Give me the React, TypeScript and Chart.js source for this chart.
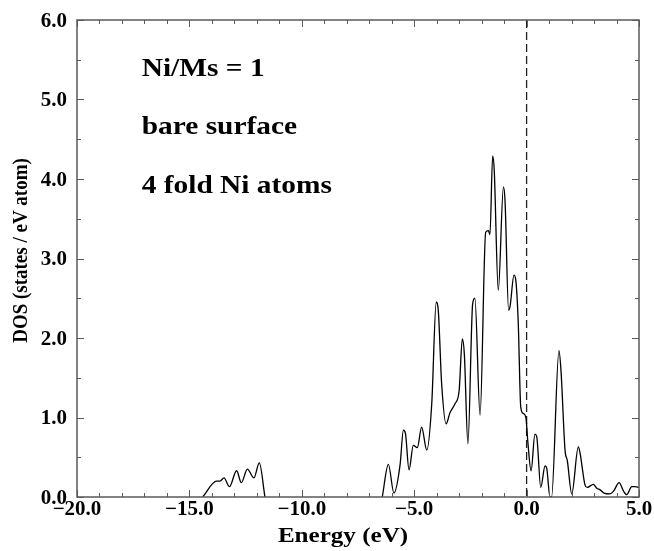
import { useEffect, useRef } from "react";
import { Chart, registerables } from "chart.js";

Chart.register(...registerables);

// ---- data ----
const energy = [
  -14.41, -13.79, -13.64, -13.46, -13.22, -12.9, -12.69, -12.42, -12.13, -11.89, -11.64,
  -9.0,
  -6.42, -6.15, -5.9, -5.63, -5.48, -5.39, -5.23, -5.04, -4.86, -4.67, -4.44, -4.22, -4.02, -3.93,
  -3.78, -3.58, -3.41, -3.19, -3.0, -2.86, -2.77, -2.61, -2.4, -2.3, -2.07, -1.82, -1.7, -1.63,
  -1.51, -1.44, -1.26, -1.03, -0.96, -0.8, -0.74, -0.56, -0.47, -0.37, -0.26, -0.15, -0.03, 0.05,
  0.2, 0.37, 0.45, 0.63, 0.82, 0.89, 1.04, 1.11, 1.44, 1.53, 1.71, 1.81, 2.01, 2.3, 2.38, 2.6,
  2.7, 2.97, 3.12, 3.27, 3.44, 3.71, 3.86, 4.12, 4.3, 4.45, 4.68, 4.82, 5.0,
];
const dos: (number | null)[] = [
  0, 0.2, 0.2, 0.24, 0.13, 0.33, 0.18, 0.35, 0.24, 0.43, 0,
  null,
  0, 0.41, 0.05, 0.4, 0.84, 0.8, 0.34, 0.65, 0.62, 0.88, 0.59, 1.17, 2.45, 2.35,
  1.43, 0.92, 1.06, 1.17, 1.34, 1.99, 1.8, 0.67, 2.43, 2.5, 1.03, 3.33, 3.35, 3.3,
  4.29, 4.11, 2.6, 3.9, 3.73, 2.35, 2.39, 2.79, 2.7, 2.18, 1.13, 1.05, 1.0, 0.71,
  0.33, 0.79, 0.76, 0.12, 0.39, 0.37, 0.0, 0.0, 1.84, 1.59, 0.59, 0.46, 0.04, 0.63, 0.55, 0.15,
  0.12, 0.16, 0.11, 0.09, 0.05, 0.04, 0.07, 0.18, 0.08, 0.03, 0.13, 0.13, 0.12,
];

const xMin = -20;
const xMax = 5;
const yMin = 0;
const yMax = 6;
const xTickValues = [-20, -15, -10, -5, 0, 5];
const xTickLabels = ["\u221220.0", "\u221215.0", "\u221210.0", "\u22125.0", "0.0", "5.0"];
const yTickValues = [0, 1, 2, 3, 4, 5, 6];
const yTickLabels = ["0.0", "1.0", "2.0", "3.0", "4.0", "5.0", "6.0"];
const xMinorStep = 1;
const yMinorStep = 0.5;
const fermiEnergy = 0;

const noteLines = ["Ni/Ms = 1", "bare surface", "4 fold Ni atoms"];
const noteX = -17.12;
const noteY = [5.3, 4.57, 3.82];

const xTitle = "Energy (eV)";
const yTitle = "DOS (states / eV atom)";

const FONT = '"Liberation Serif", "Times New Roman", serif';
const FRAME = "#5a5a5a";

function drawText(
  ctx: CanvasRenderingContext2D,
  text: string,
  x: number,
  y: number,
  size: number,
  sx: number,
  align: CanvasTextAlign,
  baseline: CanvasTextBaseline,
  rotate = false
) {
  ctx.save();
  ctx.translate(x, y);
  ctx.scale(sx, 1);
  if (rotate) ctx.rotate(-Math.PI / 2);
  ctx.font = `bold ${size}px ${FONT}`;
  ctx.textAlign = align;
  ctx.textBaseline = baseline;
  ctx.fillStyle = "#000";
  ctx.fillText(text, 0, 0);
  ctx.restore();
}

const framePlugin = {
  id: "dosFrame",
  beforeDatasetsDraw(chart: any) {
    const { ctx, chartArea: a, scales } = chart;
    const x0 = scales.x.getPixelForValue(fermiEnergy);
    ctx.save();
    ctx.strokeStyle = "#222";
    ctx.lineWidth = 1.3;
    ctx.setLineDash([8, 4]);
    ctx.beginPath();
    ctx.moveTo(x0, a.top);
    ctx.lineTo(x0, a.bottom);
    ctx.stroke();
    ctx.restore();
  },
  afterDatasetsDraw(chart: any) {
    const { ctx, chartArea: a, scales } = chart;
    const xs = scales.x;
    const ys = scales.y;
    ctx.save();
    ctx.strokeStyle = FRAME;
    ctx.lineWidth = 1.5;
    ctx.strokeRect(a.left, a.top, a.right - a.left, a.bottom - a.top);

    ctx.lineWidth = 1;
    ctx.beginPath();
    // x ticks (inward, bottom and top)
    for (let v = xMin; v <= xMax + 1e-9; v += xMinorStep) {
      const major = xTickValues.some((t) => Math.abs(t - v) < 1e-9);
      const len = major ? 7 : 4;
      const px = Math.round(xs.getPixelForValue(v)) + 0.5;
      ctx.moveTo(px, a.bottom);
      ctx.lineTo(px, a.bottom - len);
      ctx.moveTo(px, a.top);
      ctx.lineTo(px, a.top + len);
    }
    // y ticks (inward, left and right)
    for (let v = yMin; v <= yMax + 1e-9; v += yMinorStep) {
      const major = yTickValues.some((t) => Math.abs(t - v) < 1e-9);
      const len = major ? 7 : 4;
      const py = Math.round(ys.getPixelForValue(v)) + 0.5;
      ctx.moveTo(a.left, py);
      ctx.lineTo(a.left + len, py);
      ctx.moveTo(a.right, py);
      ctx.lineTo(a.right - len, py);
    }
    ctx.stroke();
    ctx.restore();

    // tick labels
    xTickValues.forEach((v, i) => {
      drawText(ctx, xTickLabels[i], xs.getPixelForValue(v), a.bottom + 18, 20, 1.05, "center", "alphabetic");
    });
    yTickValues.forEach((v, i) => {
      drawText(ctx, yTickLabels[i], a.left - 10, ys.getPixelForValue(v) + 6.5, 20, 1.05, "right", "alphabetic");
    });

    // axis titles
    drawText(ctx, xTitle, (a.left + a.right) / 2 - 15, a.bottom + 45, 22, 1.14, "center", "alphabetic");
    drawText(ctx, yTitle, 27, (a.top + a.bottom) / 2 - 8, 19, 1.05, "center", "alphabetic", true);

    // annotation lines
    noteLines.forEach((t, i) => {
      drawText(ctx, t, xs.getPixelForValue(noteX), ys.getPixelForValue(noteY[i]), 26, 1.13, "left", "alphabetic");
    });
  },
};

export default function App() {
  const ref = useRef<HTMLCanvasElement | null>(null);

  useEffect(() => {
    if (!ref.current) return;
    const points = energy.map((e, i) => ({ x: e, y: dos[i] }));
    const chart = new Chart(ref.current, {
      type: "line",
      data: {
        datasets: [
          {
            data: points as any,
            borderColor: "#000",
            borderWidth: 1.3,
            pointRadius: 0,
            fill: false,
            spanGaps: false,
            cubicInterpolationMode: "monotone",
          },
        ],
      },
      options: {
        responsive: false,
        animation: false,
        devicePixelRatio: 1,
        layout: { padding: { left: 77, right: 15, top: 20, bottom: 54 } },
        scales: {
          x: { type: "linear", min: xMin, max: xMax, display: false },
          y: { type: "linear", min: yMin, max: yMax, display: false },
        },
        plugins: { legend: { display: false }, tooltip: { enabled: false } },
      },
      plugins: [framePlugin],
    });
    return () => chart.destroy();
  }, []);

  return (
    <div style={{ position: "fixed", left: 0, top: 0, width: 654, height: 551, background: "#fff" }}>
      <canvas ref={ref} width={654} height={551} style={{ display: "block", width: 654, height: 551 }} />
    </div>
  );
}
